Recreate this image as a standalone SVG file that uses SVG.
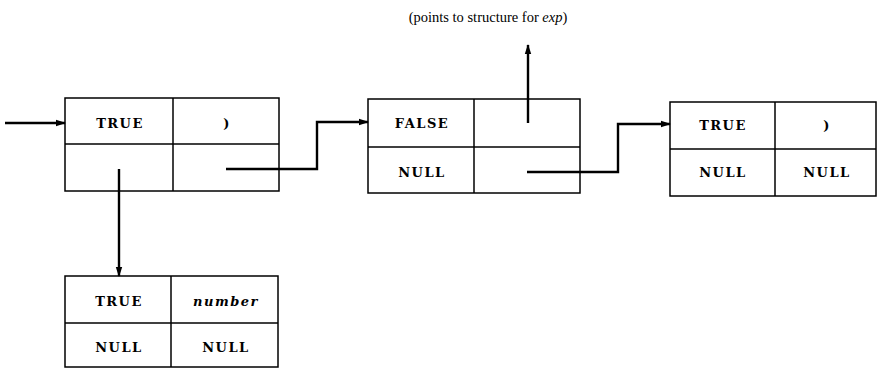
<svg xmlns="http://www.w3.org/2000/svg" width="878" height="368" viewBox="0 0 878 368">
<style>
.box{fill:#fff;stroke:#000;stroke-width:1.5}
.div{stroke:#000;stroke-width:1.5;fill:none}
.t{font-family:"DejaVu Serif",serif;font-weight:bold;font-size:13px;letter-spacing:1.5px;text-anchor:middle;fill:#000}
.i{font-style:italic}
.c{fill:none;stroke:#000;stroke-width:2.4}
.lbl{font-family:"Liberation Serif",serif;font-size:14.5px;text-anchor:middle;fill:#000}
</style>
<defs>
<marker id="ah" markerWidth="10" markerHeight="8" refX="9" refY="4" orient="auto" markerUnits="userSpaceOnUse">
<path d="M0,0.8 L10,4 L0,7.2 Z" fill="#000"/>
</marker>
</defs>
<g id="node1">
<rect class="box" x="65" y="98" width="214" height="93"/>
<line class="div" x1="65" y1="144" x2="279" y2="144"/>
<line class="div" x1="173" y1="98" x2="173" y2="191"/>
<text class="t" x="120" y="128">TRUE</text>
<text class="t" x="227" y="128">)</text>
</g>
<g id="node2">
<rect class="box" x="368" y="99" width="212" height="94"/>
<line class="div" x1="368" y1="147" x2="580" y2="147"/>
<line class="div" x1="474" y1="99" x2="474" y2="193"/>
<text class="t" x="422" y="128">FALSE</text>
<text class="t" x="422" y="177">NULL</text>
</g>
<g id="node3">
<rect class="box" x="670" y="102" width="206" height="94"/>
<line class="div" x1="670" y1="149" x2="876" y2="149"/>
<line class="div" x1="775" y1="102" x2="775" y2="196"/>
<text class="t" x="723" y="130">TRUE</text>
<text class="t" x="827" y="130">)</text>
<text class="t" x="723" y="177">NULL</text>
<text class="t" x="827" y="177">NULL</text>
</g>
<g id="node4">
<rect class="box" x="65" y="276" width="213" height="91"/>
<line class="div" x1="65" y1="323" x2="278" y2="323"/>
<line class="div" x1="171" y1="276" x2="171" y2="367"/>
<text class="t" x="119" y="306">TRUE</text>
<text class="t i" x="226" y="306">number</text>
<text class="t" x="119" y="352">NULL</text>
<text class="t" x="226" y="352">NULL</text>
</g>
<g id="label">
<text class="lbl" x="488" y="22">(points to structure for <tspan font-style="italic">exp</tspan>)</text>
</g>
<g id="connectors">
<path class="c" d="M5,123 L65,123" marker-end="url(#ah)"/>
<path class="c" d="M119,169 L119,276" marker-end="url(#ah)"/>
<path class="c" d="M226,169 L317,169 L317,122 L368,122" marker-end="url(#ah)"/>
<path class="c" d="M528,123 L528,45" marker-end="url(#ah)"/>
<path class="c" d="M527,172 L618,172 L618,124 L670,124" marker-end="url(#ah)"/>
</g>
</svg>
